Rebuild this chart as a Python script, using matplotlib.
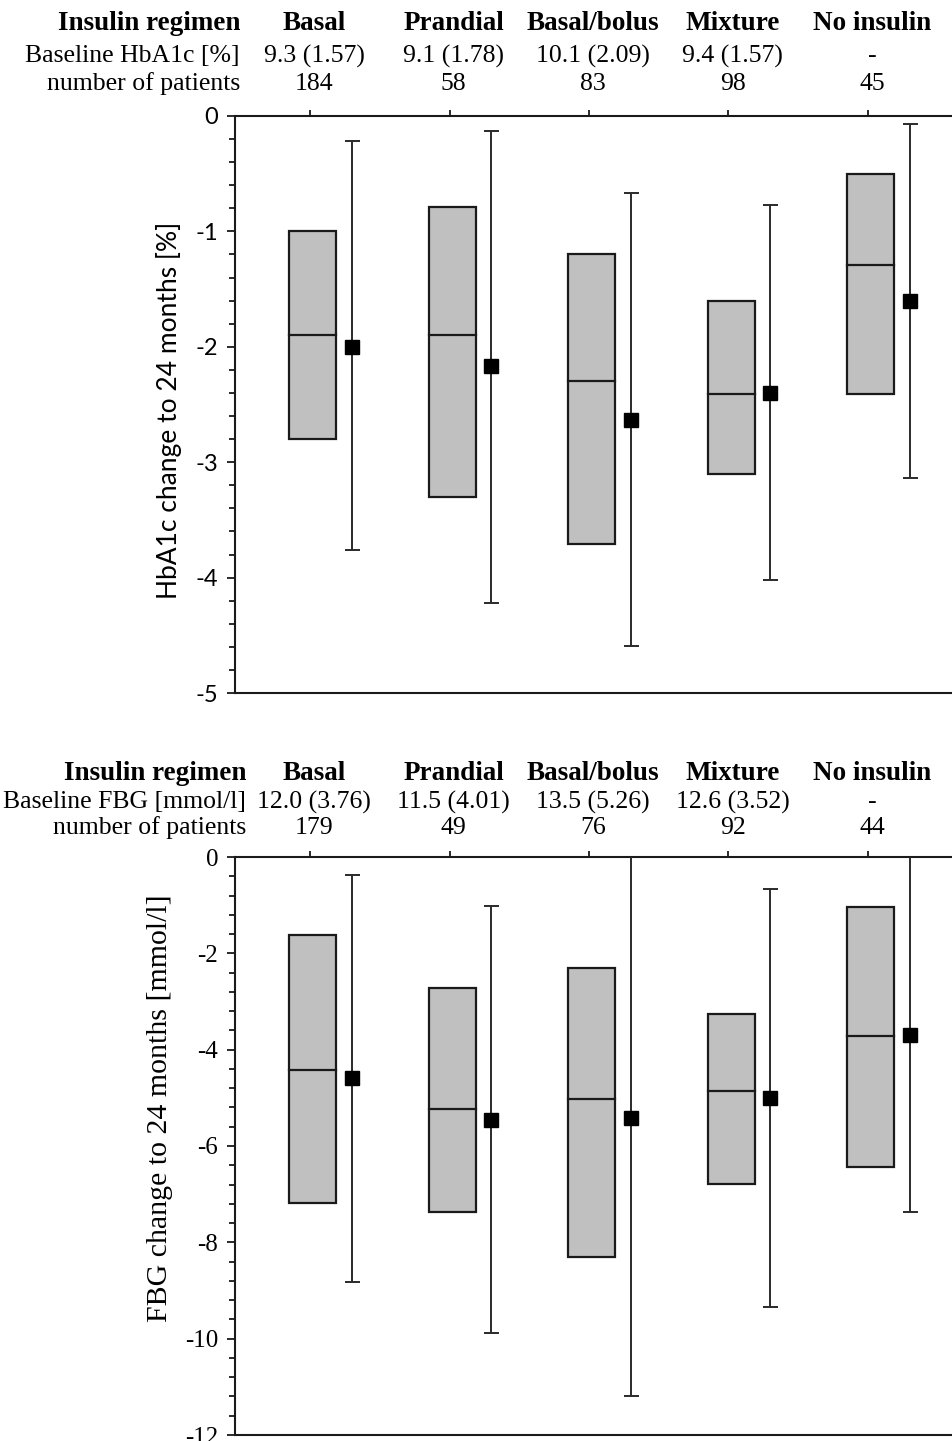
import matplotlib
matplotlib.use("Agg")
import matplotlib.pyplot as plt
from matplotlib.patches import Rectangle
from matplotlib.ticker import MultipleLocator, FuncFormatter
from matplotlib.transforms import blended_transform_factory

categories = ["Basal", "Prandial", "Basal/bolus", "Mixture", "No insulin"]

# Panel A: HbA1c
hba_baseline = ["9.3 (1.57)", "9.1 (1.78)", "10.1 (2.09)", "9.4 (1.57)", "-"]
hba_n = ["184", "58", "83", "98", "45"]
hba_q1 = [-2.8, -3.3, -3.71, -3.1, -2.41]
hba_q3 = [-1.0, -0.79, -1.2, -1.6, -0.5]
hba_median = [-1.9, -1.9, -2.3, -2.41, -1.29]
hba_mean = [-2.0, -2.17, -2.63, -2.4, -1.6]
hba_whisk_lo = [-3.76, -4.22, -4.59, -4.02, -3.14]
hba_whisk_hi = [-0.22, -0.13, -0.67, -0.77, -0.07]

# Panel B: FBG
fbg_baseline = ["12.0 (3.76)", "11.5 (4.01)", "13.5 (5.26)", "12.6 (3.52)", "-"]
fbg_n = ["179", "49", "76", "92", "44"]
fbg_q1 = [-7.18, -7.37, -8.3, -6.79, -6.44]
fbg_q3 = [-1.62, -2.72, -2.3, -3.26, -1.04]
fbg_median = [-4.42, -5.23, -5.02, -4.86, -3.72]
fbg_mean = [-4.59, -5.46, -5.42, -5.0, -3.7]
fbg_whisk_lo = [-8.82, -9.88, -11.2, -9.34, -7.37]
fbg_whisk_hi = [-0.37, -1.02, 0.4, -0.66, 0.4]

SERIF = ["Liberation Serif", "DejaVu Serif"]
SANS = ["Lato", "DejaVu Sans"]

W, H = 953, 1441
fig = plt.figure(figsize=(W / 100, H / 100), dpi=100)

BOX_W = 0.337
BOX_OFF = 0.02
WHISK_OFF = 0.30


def panel(ax, q1, q3, med, mean, lo, hi, ylim, minor, ylabel, ylabfont, ylabsize,
          ylab_pos, tickfont, ticksize, baseline, n, base_label, rows_y, label_x):
    x = list(range(len(categories)))
    for i in x:
        ax.add_patch(Rectangle((i + BOX_OFF - BOX_W / 2, q1[i]), BOX_W, q3[i] - q1[i],
                               facecolor="#c0c0c0", edgecolor="#1a1a1a", lw=1.6, zorder=2))
        ax.plot([i + BOX_OFF - BOX_W / 2, i + BOX_OFF + BOX_W / 2], [med[i], med[i]],
                color="#1a1a1a", lw=1.6, zorder=3)
        xm = i + WHISK_OFF
        ax.errorbar([xm], [mean[i]], yerr=[[mean[i] - lo[i]], [hi[i] - mean[i]]],
                    fmt="s", color="#2a2a2a", ecolor="#2a2a2a", elinewidth=1.4,
                    capsize=5.4, capthick=1.4, markersize=9.5,
                    markerfacecolor="black", markeredgecolor="black", zorder=4)
    ax.set_xlim(-0.538, 4.61)
    ax.set_ylim(*ylim)
    ax.set_xticks(x)
    ax.xaxis.tick_top()
    ax.tick_params(axis="x", direction="out", length=4.5, width=1.3, labeltop=False,
                   labelbottom=False, color="#1a1a1a")
    ax.yaxis.set_major_locator(MultipleLocator(2 if minor > 0.3 else 1))
    ax.yaxis.set_minor_locator(MultipleLocator(minor))
    ax.tick_params(axis="y", which="major", direction="out", length=6, width=1.3,
                   labelsize=ticksize, color="#1a1a1a", pad=6)
    ax.tick_params(axis="y", which="minor", direction="out", length=4, width=1.3,
                   color="#1a1a1a")
    ax.yaxis.set_major_formatter(FuncFormatter(lambda v, p: "%d" % v))
    for lab in ax.get_yticklabels():
        lab.set_family(tickfont)
    for s in ["left", "top", "bottom"]:
        ax.spines[s].set_linewidth(1.5)
        ax.spines[s].set_color("#1a1a1a")
    ax.spines["right"].set_visible(False)
    ax.set_ylabel(ylabel, family=ylabfont, fontsize=ylabsize)
    ax.yaxis.set_label_coords(*ylab_pos)

    tr = blended_transform_factory(ax.transData, fig.transFigure)
    y1, y2, y3 = [1 - r / H for r in rows_y]
    fig.text(label_x / W, y1, "Insulin regimen", ha="right", va="center",
             family=SERIF, fontweight="bold", fontsize=19.5)
    fig.text(label_x / W, y2, base_label, ha="right", va="center",
             family=SERIF, fontsize=18.5)
    fig.text(label_x / W, y3, "number of patients", ha="right", va="center",
             family=SERIF, fontsize=18.5)
    for i in x:
        fig.text(i + 0.03, y1, categories[i], ha="center", va="center", transform=tr,
                 family=SERIF, fontweight="bold", fontsize=19.5)
        fig.text(i + 0.03, y2, baseline[i], ha="center", va="center", transform=tr,
                 family=SERIF, fontsize=18.5)
        fig.text(i + 0.03, y3, n[i], ha="center", va="center", transform=tr,
                 family=SERIF, fontsize=18.5)


L = 235 / W
ax1 = fig.add_axes([L, 1 - 693 / H, 1 - L, 577 / H])
panel(ax1, hba_q1, hba_q3, hba_median, hba_mean, hba_whisk_lo, hba_whisk_hi,
      (-5, 0), 0.2, "HbA1c change to 24 months [%]", SANS, 19,
      (-(235 - 182) / 718, (693 - 410) / 577), SANS, 17,
      hba_baseline, hba_n, "Baseline HbA1c [%]", (24, 56, 84), 240)

ax2 = fig.add_axes([L, 1 - 1435 / H, 1 - L, 578 / H])
panel(ax2, fbg_q1, fbg_q3, fbg_median, fbg_mean, fbg_whisk_lo, fbg_whisk_hi,
      (-12, 0), 0.4, "FBG change to 24 months [mmol/l]", SERIF, 21.5,
      (-(235 - 173) / 718, (1435 - 1108) / 578), SERIF, 18,
      fbg_baseline, fbg_n, "Baseline FBG [mmol/l]", (773, 802, 828), 246)

fig.savefig("out.png", dpi=100)
